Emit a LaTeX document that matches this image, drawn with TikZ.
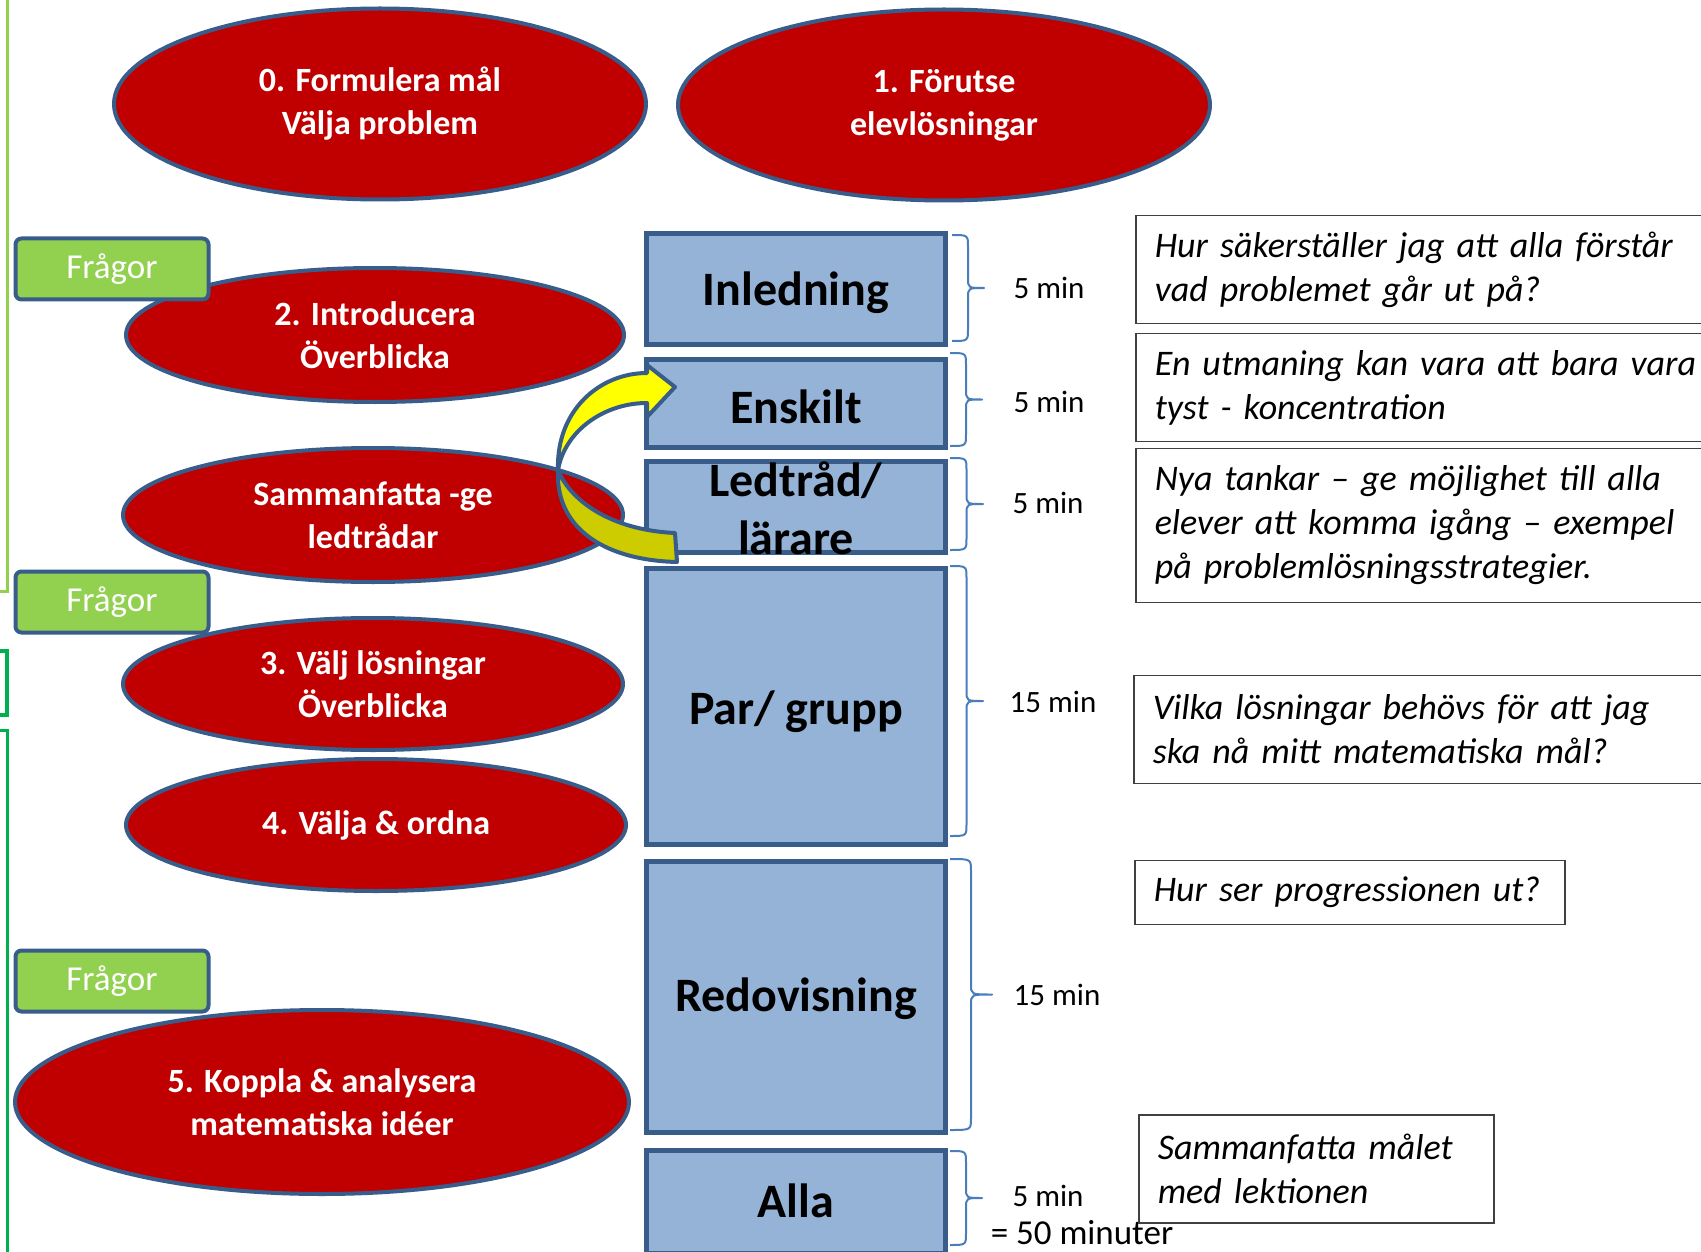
\documentclass[tikz,border=0pt]{standalone}
\usepackage{fontspec}
\setmainfont{Carlito}
\usetikzlibrary{shapes.geometric}
\definecolor{pptred}{HTML}{C00000}
\definecolor{bordblue}{HTML}{385D8A}
\definecolor{boxblue}{HTML}{95B3D7}
\definecolor{limegreen}{HTML}{92D050}
\definecolor{darkgreen}{HTML}{00B050}
\definecolor{bracecol}{HTML}{4A7EBB}
\definecolor{arrowyellow}{HTML}{FFFF00}
\definecolor{arrowdark}{HTML}{CCCC00}
% #1 left x, #2 top y, #3 bottom y, #4 tip x
\newcommand\pptbrace[4]{%
  \pgfmathsetmacro\bmid{(#2+#3)/2}%
  \pgfmathsetmacro\bv{(#1+#4)/2}%
  \draw[bracestyle] (#1,#2) .. controls (\bv,#2) .. (\bv,#2+12)
    -- (\bv,\bmid-10) .. controls (\bv,\bmid) .. (#4,\bmid)
    .. controls (\bv,\bmid) .. (\bv,\bmid+10)
    -- (\bv,#3-12) .. controls (\bv,#3) .. (#1,#3);}
\begin{document}
\begin{tikzpicture}[x=1pt,y=-1pt,
  ell/.style={ellipse, draw=bordblue, line width=4pt, fill=pptred, text=white,
    font=\fontsize{34}{43}\selectfont\bfseries, align=center, inner sep=0pt},
  fragor/.style={rectangle, rounded corners=6pt, draw=bordblue, line width=4pt, fill=limegreen,
    text=white, font=\fontsize{35}{42}\selectfont, minimum width=193pt, minimum height=61pt, inner sep=0pt},
  phase/.style={rectangle, draw=bordblue, line width=5pt, fill=boxblue, minimum width=299pt, inner sep=0pt},
  phasetext/.style={font=\fontsize{48}{58}\selectfont\bfseries, align=center, inner sep=0pt},
  note/.style={rectangle, draw=black!75, line width=1.5pt, fill=white, align=left,
    font=\fontsize{36}{44}\selectfont\itshape, inner xsep=19pt, inner ysep=0pt, anchor=west},
  mins/.style={font=\fontsize{31}{37}\selectfont, inner sep=0pt},
  bracestyle/.style={draw=bracecol, line width=2pt, line join=round},
  arrowborder/.style={draw=bordblue, line width=4pt, line join=round}
]
\useasboundingbox (0,0) rectangle (1701,1252);
\fill[white] (0,0) rectangle (1701,1252);

% green side lines
\draw[limegreen, line width=3pt] (0,591) -- (7,591) -- (7,-5);
\draw[darkgreen, line width=4pt] (0,651) -- (7,651) -- (7,715) -- (0,715);
\draw[darkgreen, line width=3pt] (0,730) -- (7,730) -- (7,1260);

% ellipses
\node[ell, minimum width=532pt, minimum height=191pt] (e0) at (380,104) {0. Formulera mål\\Välja problem};
\node[ell, minimum width=532pt, minimum height=191pt] (e1) at (944,105) {1. Förutse\\elevlösningar};
\node[ell, minimum width=498pt, minimum height=134pt] (e2) at (375,335) {2. Introducera\\Överblicka};
\node[ell, minimum width=500pt, minimum height=134pt] (e3) at (373,515) {Sammanfatta -ge\\ledtrådar};
\node[ell, minimum width=500pt, minimum height=132pt] (e4) at (373,684) {3. Välj lösningar\\Överblicka};
\node[ell, minimum width=500pt, minimum height=132pt] (e5) at (376,825) {4. Välja \& ordna};
\node[ell, minimum width=614pt, minimum height=184pt] (e6) at (322,1102) {5. Koppla \& analysera\\matematiska idéer};

% Frågor boxes
\node[fragor] (f1) at (112,269) {Frågor};
\node[fragor] (f2) at (112,602) {Frågor};
\node[fragor] (f3) at (112,981) {Frågor};

% phase boxes
\node[phase, minimum height=111pt] (inl) at (796,289) {};
\node[phase, minimum height=88pt] (ens) at (796,403.5) {};
\node[phase, minimum height=91pt] (led) at (796,507) {};
\node[phase, minimum height=276pt] (par) at (796,706.5) {};
\node[phase, minimum height=271pt] (red) at (796,997) {};
\node[phase, minimum height=103pt] (alla) at (796,1202) {};

\node[phasetext] (tinl) at (796,293) {Inledning};
\node[phasetext] (tens) at (796,407) {Enskilt};
\node[phasetext] (tled) at (796,508) {Ledtråd/\\lärare};
\node[phasetext] (tpar) at (796,712) {Par/ grupp};
\node[phasetext] (tred) at (796,999) {Redovisning};
\node[phasetext] (talla) at (796,1201) {Alla};

% braces
\pptbrace{952}{235}{341}{984}
\pptbrace{950}{353}{446}{982}
\pptbrace{950}{458}{550}{983}
\pptbrace{950}{566}{836}{983}
\pptbrace{950}{859}{1130}{992}
\pptbrace{950}{1151}{1245}{982}

% minute labels
\node[mins] (m1) at (1049,288) {5 min};
\node[mins] (m2) at (1049,402) {5 min};
\node[mins] (m3) at (1048,503) {5 min};
\node[mins] (m4) at (1053,702) {15 min};
\node[mins] (m5) at (1057,995) {15 min};
\node[mins] (m6) at (1048,1196) {5 min};
\node[mins, font=\fontsize{35}{42}\selectfont] (tot) at (1082,1233) {= 50 minuter};

% notes
\node[note, text width=580pt, minimum height=108pt] (n1) at (1135,269.5) {Hur säkerställer jag att alla förstår\\vad problemet går ut på?};
\node[note, text width=580pt, minimum height=108pt] (n2) at (1135,387.5) {En utmaning kan vara att bara vara\\tyst - koncentration};
\node[note, text width=580pt, minimum height=154pt] (n3) at (1135,525.5) {Nya tankar – ge möjlighet till alla\\elever att komma igång – exempel\\på problemlösningsstrategier.};
\node[note, text width=580pt, minimum height=108pt] (n4) at (1133,729.5) {Vilka lösningar behövs för att jag\\ska nå mitt matematiska mål?};
\node[note, text width=392pt, minimum height=64pt] (n5) at (1134,892.5) {Hur ser progressionen ut?};
\node[note, text width=317pt, minimum height=108pt] (n6) at (1138,1169) {Sammanfatta målet\\med lektionen};

% curved yellow arrow
\draw[arrowborder, fill=arrowdark] (558,470) .. controls (570,500) and (610,530) .. (675,533) -- (677,562) .. controls (600,560) and (555,525) .. (558,470) -- cycle;
\draw[arrowborder, fill=arrowyellow] (558,470) .. controls (556,410) and (600,373) .. (647,373) -- (647,365) -- (675,387) -- (647,417) -- (647,403) .. controls (605,403) and (565,430) .. (558,470) -- cycle;
\end{tikzpicture}
\end{document}
